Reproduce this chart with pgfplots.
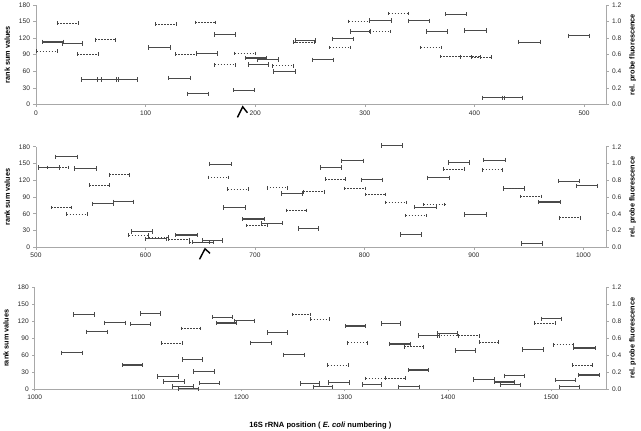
\documentclass[border=0pt]{standalone}
\usepackage{fontspec}
\setmainfont{Liberation Sans}
\usepackage{pgfplots}
\pgfplotsset{compat=1.18}
\usetikzlibrary{calc}
\definecolor{segS}{HTML}{4A4A4A}
\definecolor{segD}{HTML}{444444}
\definecolor{axgray}{HTML}{A8A8A8}
\pgfplotsset{
  base/.style={scale only axis, anchor=south west, ymin=0, ymax=180,
    ytick={0,30,60,90,120,150,180},
    axis x line*=bottom, axis y line*=left,
    axis line style={axgray, line width=0.6pt},
    tick style={axgray, line width=0.6pt},
    tick align=outside, major tick length=2.5pt,
    ticklabel style={font=\fontsize{6.6}{7}\selectfont, text=black!85},
    /pgf/number format/1000 sep={},
    /pgf/number format/assume math mode=true,
    every axis y label/.style={at={(axis description cs:0,0.5)}, xshift=-28.7pt, rotate=90, anchor=center, font=\fontsize{7.3}{8}\selectfont\bfseries},
    ylabel={rank sum values},
    clip=false, unbounded coords=jump},
  rbase/.style={scale only axis, anchor=south west, ymin=0, ymax=1.2,
    ytick={0,0.2,0.4,0.6,0.8,1.0,1.2},
    axis y line*=right, axis x line=none,
    axis line style={axgray, line width=0.6pt},
    tick style={axgray, line width=0.6pt},
    tick align=outside, major tick length=2.5pt,
    ticklabel style={font=\fontsize{6.6}{7}\selectfont, text=black!85},
    yticklabel style={/pgf/number format/fixed, /pgf/number format/fixed zerofill, /pgf/number format/precision=1},
    /pgf/number format/assume math mode=true,
    every axis y label/.style={at={(axis description cs:1,0.5)}, xshift=26.7pt, rotate=90, anchor=center, font=\fontsize{7.3}{8}\selectfont\bfseries},
    ylabel={rel. probe fluorescence}},
  S/.style={segS, line width=1.15pt, mark=|, mark size=2.2pt, mark options={segS, line width=0.8pt}},
  D/.style={segD, line width=0.8pt, dash pattern=on 1.6pt off 1.4pt, mark=|, mark size=1.8pt, mark options={solid, segD, line width=0.7pt}},
}
\begin{document}
\begin{tikzpicture}
\path[use as bounding box] (0,0) rectangle (641pt,431pt);
% ---------------- Panel 1 ----------------
\begin{axis}[base, at={(36pt,326.6pt)}, width=570pt, height=99.5pt, xmin=0, xmax=520, xtick={0,100,200,300,400,500}]
\addplot[S] coordinates {
(5.5,113)(24.9,113)(0,nan)
(23.7,110)(42,110)(0,nan)
(41,45)(60,45)(0,nan)
(56,45)(75,45)(0,nan)
(73,45)(92.8,45)(0,nan)
(102.8,102.6)(122.9,102.6)(0,nan)
(146,92)(165.5,92)(0,nan)
(121,47.4)(140.5,47.4)(0,nan)
(138,19)(157.5,19)(0,nan)
(162.4,126.3)(181.9,126.3)(0,nan)
(180,25.5)(199.5,25.5)(0,nan)
(191,84)(210.5,84)(0,nan)
(202,81)(221.4,81)(0,nan)
(193.4,72.4)(212.3,72.4)(0,nan)
(217,59.7)(237,59.7)(0,nan)
(236.6,115.7)(254.9,115.7)(0,nan)
(252.5,80.5)(271.3,80.5)(0,nan)
(270,118.6)(289.5,118.6)(0,nan)
(286.5,131.7)(305.4,131.7)(0,nan)
(304.2,151.8)(324,151.8)(0,nan)
(340,151.2)(359,151.2)(0,nan)
(356.3,131.7)(375.3,131.7)(0,nan)
(373.1,163)(392.3,163)(0,nan)
(390.5,134)(410.6,134)(0,nan)
(440,112.7)(460.5,112.7)(0,nan)
(486,124)(505,124)(0,nan)
(407.1,11.9)(427,11.9)(0,nan)
(425.2,11.9)(443.6,11.9)
};
\addplot[D] coordinates {
(19.5,147)(38.9,147)(0,nan)
(0.6,96.7)(19.5,96.7)(0,nan)
(54,117)(72,117)(0,nan)
(37.7,90.7)(56.6,90.7)(0,nan)
(108.9,145.3)(128.3,145.3)(0,nan)
(127.1,90.7)(146,90.7)(0,nan)
(145.4,148.3)(163.6,148.3)(0,nan)
(163,71.5)(181.9,71.5)(0,nan)
(181.3,92)(200.1,92)(0,nan)
(216,70)(234.8,70)(0,nan)
(234.8,112.5)(254.3,112.5)(0,nan)
(268,102.6)(287,102.6)(0,nan)
(304.5,131.7)(323,131.7)(0,nan)
(285.3,150)(304.2,150)(0,nan)
(321.8,164.3)(340,164.3)(0,nan)
(350.8,102.6)(369.8,102.6)(0,nan)
(369,86.6)(387,86.6)(0,nan)
(387,86)(405,86)(0,nan)
(397,85.5)(415,85.5)
};
\draw[line width=1.4pt, black] ($(axis cs:188.6,0)+(-5.3pt,-13pt)$) -- ($(axis cs:188.6,0)+(0pt,-2.4pt)$) -- ($(axis cs:188.6,0)+(4.7pt,-8.4pt)$);
\end{axis}
\begin{axis}[rbase, at={(36pt,326.6pt)}, width=570pt, height=99.5pt, xmin=0, xmax=520]
\end{axis}
% ---------------- Panel 2 ----------------
\begin{axis}[base, at={(36pt,183.7pt)}, width=570pt, height=100.5pt, xmin=500, xmax=1020.7, xtick={500,600,700,800,900,1000}]
\addplot[S] coordinates {
(501.8,143)(521.2,143)(0,nan)
(518,162)(538,162)(0,nan)
(535,141)(555,141)(0,nan)
(551.5,78)(571,78)(0,nan)
(571,81.6)(589,81.6)(0,nan)
(587.3,28)(606,28)(0,nan)
(600,15)(619.4,15)(0,nan)
(627.3,22)(647.3,22)(0,nan)
(643,9)(661.8,9)(0,nan)
(652,12)(670,12)(0,nan)
(658.8,149)(678.2,149)(0,nan)
(671.5,71)(691.5,71)(0,nan)
(688.5,50.7)(708.5,50.7)(0,nan)
(706,43)(724.8,43)(0,nan)
(724,96)(743,96)(0,nan)
(739.4,34)(758,34)(0,nan)
(760,143)(779.4,143)(0,nan)
(779.4,155)(798.8,155)(0,nan)
(797,121)(816.4,121)(0,nan)
(815.8,182)(834.5,182)(0,nan)
(846,72)(865.5,72)(0,nan)
(832.7,22.6)(852,22.6)(0,nan)
(858,124.5)(878,124.5)(0,nan)
(876.4,152)(895.8,152)(0,nan)
(891.5,59)(911,59)(0,nan)
(909,156)(929,156)(0,nan)
(926.7,105.5)(946,105.5)(0,nan)
(959.4,81)(978.8,81)(0,nan)
(943.6,7)(962.4,7)(0,nan)
(977,118.6)(996.4,118.6)(0,nan)
(994,110)(1012.7,110)
};
\addplot[D] coordinates {
(510.3,143)(529.7,143)(0,nan)
(567,130)(585.5,130)(0,nan)
(548.5,111.4)(566.7,111.4)(0,nan)
(514,71)(532.7,71)(0,nan)
(527.9,59.6)(546.7,59.6)(0,nan)
(584.8,22)(603,22)(0,nan)
(603,18.5)(621.2,18.5)(0,nan)
(621,14)(640,14)(0,nan)
(640,9)(658.5,9)(0,nan)
(657,125)(675.8,125)(0,nan)
(675,104.3)(694,104.3)(0,nan)
(692,38.7)(711.5,38.7)(0,nan)
(710.9,106.7)(729.7,106.7)(0,nan)
(744,99.5)(763.5,99.5)(0,nan)
(728.5,66)(746.7,66)(0,nan)
(764.2,122)(783,122)(0,nan)
(781.8,105.5)(800.6,105.5)(0,nan)
(800.6,94.8)(819.4,94.8)(0,nan)
(819.4,80.5)(838.2,80.5)(0,nan)
(854,76.3)(873.3,76.3)(0,nan)
(837.6,56.6)(856.4,56.6)(0,nan)
(872,140)(890.9,140)(0,nan)
(907.9,138.9)(926,138.9)(0,nan)
(926.7,105.5)(946,105.5)(0,nan)
(942.4,91)(961.2,91)(0,nan)
(978.2,53)(997,53)
};
\draw[line width=1.4pt, black] ($(axis cs:654.4,0)+(-5.5pt,-12pt)$) -- ($(axis cs:654.4,0)+(0pt,-1.5pt)$) -- ($(axis cs:654.4,0)+(5pt,-6pt)$);
\end{axis}
\begin{axis}[rbase, at={(36pt,183.7pt)}, width=570pt, height=100.5pt, xmin=0, xmax=1]
\end{axis}
% ---------------- Panel 3 ----------------
\begin{axis}[base, at={(34.75pt,42pt)}, width=571.25pt, height=101.5pt, xmin=1000, xmax=1553, xtick={1000,1100,1200,1300,1400,1500},
  xlabel={16S rRNA position ( \textit{E. coli} numbering )},
  every axis x label/.style={at={(axis description cs:0.5,0)}, yshift=-36.7pt, anchor=center, font=\fontsize{7.6}{8.5}\selectfont\bfseries}]
\addplot[S] coordinates {
(1025.8,64.3)(1045.8,64.3)(0,nan)
(1037.4,132)(1057.4,132)(0,nan)
(1050.3,101.5)(1070.3,101.5)(0,nan)
(1067.7,117.5)(1087.7,117.5)(0,nan)
(1085,42.5)(1104.5,42.5)(0,nan)
(1093,115)(1112.3,115)(0,nan)
(1102,134)(1122,134)(0,nan)
(1142.6,52.5)(1162.6,52.5)(0,nan)
(1118.7,22.5)(1138.7,22.5)(0,nan)
(1125,13.5)(1144.5,13.5)(0,nan)
(1133.5,4.5)(1153.5,4.5)(0,nan)
(1139.4,0.5)(1158.7,0.5)(0,nan)
(1154,30.7)(1173.5,30.7)(0,nan)
(1159.4,10.5)(1178.7,10.5)(0,nan)
(1172.3,127.5)(1191.6,127.5)(0,nan)
(1176,117)(1195.5,117)(0,nan)
(1193.5,121)(1213,121)(0,nan)
(1209,82)(1229,82)(0,nan)
(1225,100.4)(1244.5,100.4)(0,nan)
(1240.6,60.8)(1260.6,60.8)(0,nan)
(1256.8,10)(1276,10)(0,nan)
(1269.7,4)(1288,4)(0,nan)
(1300.3,111.6)(1320.5,111.6)(0,nan)
(1335.4,116.3)(1354.2,116.3)(0,nan)
(1371,95)(1392,95)(0,nan)
(1389.3,98.6)(1408.8,98.6)(0,nan)
(1343.8,79.7)(1363.3,79.7)(0,nan)
(1406.8,68.5)(1427,68.5)(0,nan)
(1471.8,70.2)(1492,70.2)(0,nan)
(1490,124.6)(1510,124.6)(0,nan)
(1521.8,72.6)(1542.5,72.6)(0,nan)
(1526.3,24.7)(1546.4,24.7)(0,nan)
(1503.6,15.7)(1523.7,15.7)(0,nan)
(1508,4)(1527.6,4)(0,nan)
(1362,33.6)(1381.5,33.6)(0,nan)
(1284.7,11.2)(1304.2,11.2)(0,nan)
(1317.2,7.7)(1336,7.7)(0,nan)
(1352.3,4)(1372.4,4)(0,nan)
(1424.4,17.1)(1444.5,17.1)(0,nan)
(1444.5,12.4)(1464,12.4)(0,nan)
(1454.2,23.5)(1473.7,23.5)(0,nan)
(1450.3,7.5)(1469.8,7.5)
};
\addplot[D] coordinates {
(1122.6,81.5)(1142.6,81.5)(0,nan)
(1142,107.4)(1160,107.4)(0,nan)
(1249,132)(1267,132)(0,nan)
(1267,124)(1285,124)(0,nan)
(1283.4,42.5)(1303.6,42.5)(0,nan)
(1303,82)(1321.8,82)(0,nan)
(1357.5,75)(1376.3,75)(0,nan)
(1390,94.2)(1410,94.2)(0,nan)
(1410,94.2)(1430,94.2)(0,nan)
(1430,83.2)(1449,83.2)(0,nan)
(1483.4,117)(1504.2,117)(0,nan)
(1502.3,78.5)(1521.8,78.5)(0,nan)
(1520.5,42.7)(1540,42.7)(0,nan)
(1320.5,18.9)(1339.3,18.9)(0,nan)
(1339.3,19.5)(1358.8,19.5)
};
\end{axis}
\begin{axis}[rbase, at={(34.75pt,42pt)}, width=571.25pt, height=101.5pt, xmin=0, xmax=1]
\end{axis}
\end{tikzpicture}
\end{document}
